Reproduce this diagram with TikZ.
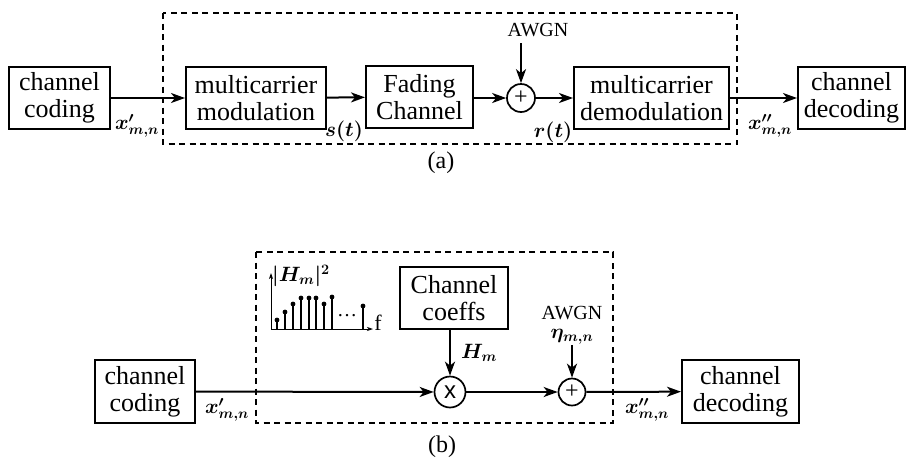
\documentclass[tikz,border=0pt]{standalone}
\usepackage{amsmath}
\usepackage{bm}
\usepackage{fontspec}
\setmainfont{Liberation Serif}
\newfontfamily\serifx{Liberation Serif}
\newfontfamily\sansx{Liberation Sans}
\usetikzlibrary{arrows.meta}
\begin{document}
\begin{tikzpicture}[x=1pt,y=-1pt,
  blk/.style={draw, line width=2pt, inner sep=0pt, align=center,
    minimum height=62pt, font=\serifx\fontsize{26}{27}\selectfont},
  lab/.style={inner sep=0pt, font=\fontsize{20}{22}\selectfont},
  txt/.style={inner sep=0pt, font=\serifx\fontsize{20}{22}\selectfont},
  circ/.style={circle, draw, line width=1.7pt, inner sep=0pt},
  arr/.style={-{Stealth[length=14pt,width=10pt,inset=4pt]}, line width=2pt},
  thinarr/.style={-{Stealth[length=6pt,width=4pt,inset=1.5pt]}, line width=0.9pt},
  dbox/.style={draw, line width=1.3pt, dash pattern=on 6pt off 4.5pt},
  stem/.style={line width=1.3pt}
]
\useasboundingbox (0,0) rectangle (906,459);

% ---------------- (a) ----------------
\draw[dbox] (163,13) rectangle (737,144);
\node[blk, minimum width=101pt] (cca) at (59.5,98) {channel\\coding};
\node[blk, minimum width=140pt] (mod) at (256,98) {multicarrier\\modulation};
\node[blk, minimum width=107pt] (fad) at (419.5,97) {Fading\\Channel};
\node[circ, minimum size=28pt, font=\serifx\fontsize{24}{24}\selectfont] (suma) at (521,98) {+};
\node[blk, minimum width=155pt] (demod) at (651.5,98) {multicarrier\\demodulation};
\node[blk, minimum width=107pt] (deca) at (851.5,98) {channel\\decoding};
\node[txt] (awgna) at (538,30) {AWGN};
\coordinate (awa) at (521,43);

\draw[arr] (cca) -- (mod);
\draw[arr] (mod) -- (fad);
\draw[arr] (fad.east |- suma) -- (suma);
\draw[arr] (suma) -- (demod);
\draw[arr] (demod) -- (deca);
\draw[arr] (awa) -- (suma);

\node[lab] (xa) at (137,126) {$\bm{x'_{m,n}}$};
\node[lab] (st) at (344,131) {$\bm{s(t)}$};
\node[lab] (rt) at (553,132) {$\bm{r(t)}$};
\node[lab] (xb) at (770,126) {$\bm{x''_{m,n}}$};
\node[inner sep=0pt, font=\serifx\fontsize{24}{24}\selectfont] (capa) at (441,163) {(a)};

% ---------------- (b) ----------------
\draw[dbox] (256,252) rectangle (613,423);
\node[blk, minimum width=100pt, minimum height=63pt] (ccb) at (145,391.5) {channel\\coding};
\node[circ, minimum size=31pt, font=\sansx\fontsize{24}{24}\selectfont] (mul) at (450,392) {x};
\node[blk, minimum width=108pt] (coeff) at (454,298) {Channel\\coeffs};
\node[circ, minimum size=27pt, font=\serifx\fontsize{24}{24}\selectfont] (sumb) at (572,392) {+};
\node[blk, minimum width=117pt, minimum height=63pt] (decb) at (740.5,391.5) {channel\\decoding};
\node[txt] (awgnb) at (572,313) {AWGN};
\node[lab] (eta) at (572,337) {$\bm{\eta_{m,n}}$};

\draw[arr] (ccb) -- (mul);
\draw[arr] (coeff.south -| mul) -- (mul);
\draw[arr] (mul) -- (sumb);
\draw[arr] (eta) -- (sumb);
\draw[arr] (sumb) -- (decb);

\node[lab] (xc) at (227,410) {$\bm{x'_{m,n}}$};
\node[lab] (hm) at (479,353) {$\bm{H_m}$};
\node[lab] (xd) at (647,410) {$\bm{x''_{m,n}}$};
\node[inner sep=0pt, font=\serifx\fontsize{24}{24}\selectfont] (capb) at (442,447) {(b)};

% spectrum sketch
\coordinate (org) at (271,329);
\draw[thinarr] (org) -- (271,273);
\draw[thinarr] (org) -- (373,329);
\foreach \sx/\sy in {277/320,285/312,293/304,301/298,309/298,316/298,324/304,332/297,363/306}{
  \draw[stem] (\sx,329) -- (\sx,\sy);
  \fill (\sx,\sy) circle (2.4pt);
}
\node[inner sep=0pt, font=\serifx\fontsize{20}{20}\selectfont] (dots) at (347,316) {\ldots};
\node[inner sep=0pt, font=\serifx\fontsize{22}{22}\selectfont] (fl) at (378,323) {f};
\node[lab] (hsq) at (301,276) {$\bm{|H_m|^2}$};
\end{tikzpicture}
\end{document}
